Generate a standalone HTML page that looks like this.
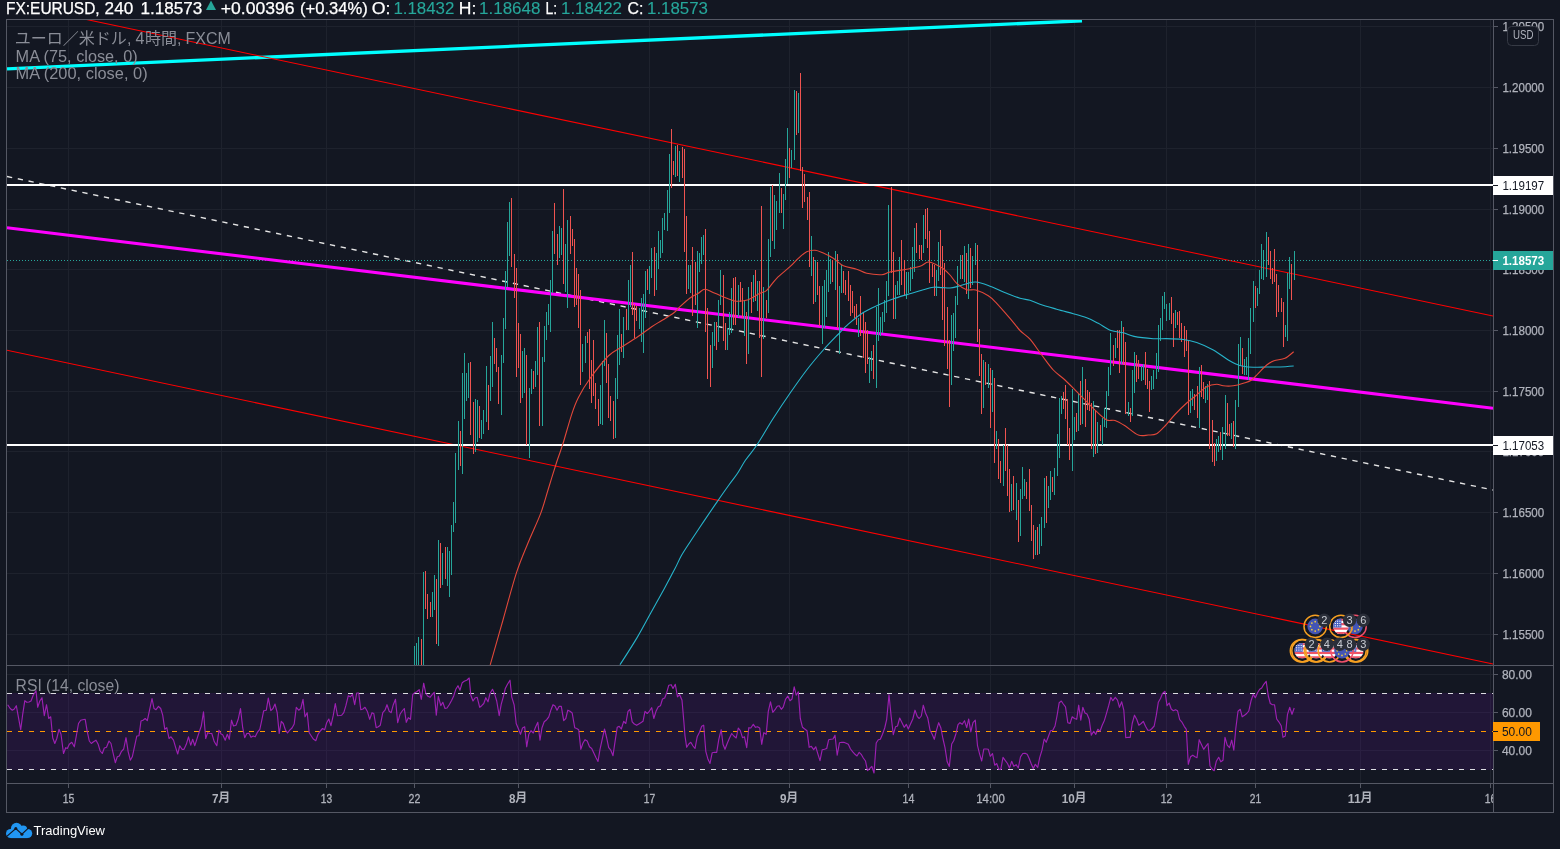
<!DOCTYPE html>
<html><head><meta charset="utf-8"><title>EURUSD</title><style>html,body{margin:0;padding:0;background:#131722;width:1560px;height:849px;overflow:hidden}</style></head><body>
<svg width="1560" height="849" viewBox="0 0 1560 849" style="display:block;position:absolute;left:0;top:0;will-change:transform">
<rect width="1560" height="849" fill="#131722"/>
<defs><clipPath id="cm"><rect x="7" y="20" width="1486" height="645"/></clipPath><clipPath id="cr"><rect x="7" y="666" width="1486" height="117"/></clipPath><clipPath id="ct"><rect x="7" y="784" width="1486" height="28"/></clipPath><clipPath id="ca"><rect x="1494" y="20" width="59" height="645"/></clipPath></defs>
<g stroke="#1e222d" stroke-width="1" shape-rendering="crispEdges"><line x1="68.5" y1="20" x2="68.5" y2="665"/><line x1="68.5" y1="666" x2="68.5" y2="783"/><line x1="221.5" y1="20" x2="221.5" y2="665"/><line x1="221.5" y1="666" x2="221.5" y2="783"/><line x1="326.5" y1="20" x2="326.5" y2="665"/><line x1="326.5" y1="666" x2="326.5" y2="783"/><line x1="414.5" y1="20" x2="414.5" y2="665"/><line x1="414.5" y1="666" x2="414.5" y2="783"/><line x1="518.5" y1="20" x2="518.5" y2="665"/><line x1="518.5" y1="666" x2="518.5" y2="783"/><line x1="649.5" y1="20" x2="649.5" y2="665"/><line x1="649.5" y1="666" x2="649.5" y2="783"/><line x1="789.5" y1="20" x2="789.5" y2="665"/><line x1="789.5" y1="666" x2="789.5" y2="783"/><line x1="908.5" y1="20" x2="908.5" y2="665"/><line x1="908.5" y1="666" x2="908.5" y2="783"/><line x1="990.5" y1="20" x2="990.5" y2="665"/><line x1="990.5" y1="666" x2="990.5" y2="783"/><line x1="1074.5" y1="20" x2="1074.5" y2="665"/><line x1="1074.5" y1="666" x2="1074.5" y2="783"/><line x1="1166.5" y1="20" x2="1166.5" y2="665"/><line x1="1166.5" y1="666" x2="1166.5" y2="783"/><line x1="1255.5" y1="20" x2="1255.5" y2="665"/><line x1="1255.5" y1="666" x2="1255.5" y2="783"/><line x1="1360.5" y1="20" x2="1360.5" y2="665"/><line x1="1360.5" y1="666" x2="1360.5" y2="783"/><line x1="1490.5" y1="20" x2="1490.5" y2="665"/><line x1="1490.5" y1="666" x2="1490.5" y2="783"/><line x1="7" y1="26.5" x2="1493" y2="26.5"/><line x1="7" y1="87.5" x2="1493" y2="87.5"/><line x1="7" y1="148.5" x2="1493" y2="148.5"/><line x1="7" y1="209.5" x2="1493" y2="209.5"/><line x1="7" y1="269.5" x2="1493" y2="269.5"/><line x1="7" y1="330.5" x2="1493" y2="330.5"/><line x1="7" y1="391.5" x2="1493" y2="391.5"/><line x1="7" y1="451.5" x2="1493" y2="451.5"/><line x1="7" y1="512.5" x2="1493" y2="512.5"/><line x1="7" y1="573.5" x2="1493" y2="573.5"/><line x1="7" y1="634.5" x2="1493" y2="634.5"/><line x1="7" y1="674.5" x2="1493" y2="674.5"/><line x1="7" y1="712.5" x2="1493" y2="712.5"/><line x1="7" y1="750.5" x2="1493" y2="750.5"/></g>
<g clip-path="url(#cm)" fill="none">
<line x1="7" y1="68.8" x2="1082" y2="20.8" stroke="#00ffff" stroke-width="3.3"/>
<line x1="86.5" y1="19.5" x2="1493" y2="316" stroke="#ff0000" stroke-width="1.05"/>
<line x1="6" y1="350" x2="1493" y2="664" stroke="#ff0000" stroke-width="1.05"/>
<line x1="7" y1="176.5" x2="1493" y2="490" stroke="#e4e4e4" stroke-width="1.4" stroke-dasharray="5.3 5.7"/>
<line x1="7" y1="260.5" x2="1493" y2="260.5" stroke="#26a69a" stroke-width="1" stroke-dasharray="1 2" shape-rendering="crispEdges"/>
<line x1="7" y1="227.8" x2="1493" y2="408.2" stroke="#ff00ff" stroke-width="3.1"/>
<rect x="7" y="184" width="1486" height="2" fill="#ffffff" shape-rendering="crispEdges"/>
<rect x="7" y="444" width="1486" height="2" fill="#ffffff" shape-rendering="crispEdges"/>
<path d="M414 646v19M416 643v22M418 637v30M423 572v93M432 592v25M434 575v35M438 540v106M442 553v32M447 547v39M449 551v46M451 525v50M453 502v30M455 453v70M458 421v49M462 373v101M464 353v66M466 373v28M468 363v35M475 399v53M477 400v42M481 420v19M483 410v24M486 366v56M490 356v45M492 322v65M501 355v60M503 318v45M505 271v58M507 222v65M509 202v54M522 351v47M524 348v45M529 388v70M531 369v25M535 361v26M537 327v48M542 357v69M544 326v36M546 312v28M548 304v21M550 280v52M552 231v62M559 226v32M561 228v27M565 244v48M567 220v88M582 344v28M585 336v27M600 385v39M602 361v64M604 320v46M615 378v60M617 335v64M619 309v56M623 317v41M628 280v50M630 265v42M639 308v21M641 298v44M643 294v59M645 271v47M649 266v28M651 248v30M656 253v37M658 231v38M660 240v18M662 218v35M664 213v17M667 190v41M669 154v59M675 146v31M679 151v31M688 265v24M690 265v28M697 251v77M699 253v19M701 237v27M703 235v20M712 332v36M714 322v24M718 300v42M720 270v35M727 328v22M729 312v23M731 288v45M738 285v32M744 300v36M748 287v67M753 275v27M757 281v30M763 287v52M768 239v74M770 187v70M774 195v54M776 201v29M779 173v40M783 194v35M785 159v41M787 128v56M791 150v18M794 90v70M798 93v40M811 236v40M815 260v42M822 286v58M824 280v48M826 270v47M828 252v40M830 259v25M835 251v39M839 286v68M841 265v28M858 318v19M869 357v26M871 351v20M876 307v81M878 288v53M880 317v19M882 312v21M884 300v22M886 281v32M888 205v91M895 285v34M897 281v14M899 257v38M906 272v27M908 272v21M910 267v24M912 247v32M914 228v44M923 215v38M936 270v26M938 242v39M951 315v70M953 313v38M955 296v42M957 266v39M960 255v24M964 246v36M968 244v55M972 256v29M975 243v22M983 360v48M988 364v24M992 370v42M996 431v18M1003 445v41M1011 484v27M1016 483v37M1020 489v47M1022 467v32M1024 479v17M1035 530v25M1039 524v30M1041 517v29M1044 478v50M1048 486v22M1050 471v29M1054 468v27M1057 434v42M1059 398v60M1061 396v18M1072 389v82M1074 417v23M1078 394v37M1082 367v57M1093 401v56M1097 422v31M1102 418v27M1104 408v19M1106 391v37M1108 367v29M1110 333v42M1115 338v20M1121 321v43M1128 402v14M1132 370v46M1134 352v41M1141 366v15M1143 364v16M1151 376v14M1153 370v19M1156 353v26M1158 325v47M1160 318v23M1162 296v34M1164 292v17M1166 304v17M1169 303v17M1175 310v18M1190 391v22M1192 389v17M1199 367v61M1205 386v17M1207 384v16M1216 439v22M1218 436v16M1222 427v33M1225 395v54M1231 423v16M1235 400v49M1238 344v63M1240 337v29M1244 359v16M1246 357v18M1248 338v42M1250 308v46M1253 281v41M1257 288v18M1259 270v24M1261 244v35M1263 250v30M1266 232v45M1285 325v12M1287 273v68M1289 257v32M1294 251v29" stroke="#26a69a" stroke-width="1" transform="translate(0.5 0)" shape-rendering="crispEdges"/>
<path d="M421 639v26M425 571v38M427 594v25M430 602v15M436 579v65M440 543v45M445 547v32M460 431v35M470 362v73M473 402v52M479 406v32M488 385v45M494 338v26M496 348v24M498 367v37M511 198v69M514 254v44M516 268v109M518 323v45M520 334v69M526 355v90M533 371v18M539 322v104M554 203v51M557 234v31M563 189v95M570 216v38M572 229v17M574 239v68M576 268v37M578 274v54M580 290v95M587 332v11M589 329v60M591 360v43M593 340v56M595 383v26M598 399v27M606 333v50M608 364v54M610 396v25M613 401v38M621 334v18M626 309v21M632 252v63M634 304v34M636 306v15M647 269v21M654 247v49M671 129v59M673 161v14M677 145v31M682 147v31M684 149v103M686 216v78M692 247v69M695 262v43M705 229v103M707 308v71M710 345v42M716 322v28M723 275v66M725 323v27M733 278v47M735 277v48M740 282v20M742 288v30M746 312v52M751 282v31M755 270v31M759 281v57M761 206v171M766 300v18M772 185v56M781 188v25M789 148v30M796 91v44M800 73v98M802 167v41M804 174v28M807 197v23M809 192v75M813 257v47M817 262v33M819 286v40M832 260v22M837 254v74M843 271v22M845 280v15M848 271v30M850 285v31M852 291v22M854 306v12M856 304v21M860 296v40M863 312v46M865 322v51M867 330v34M873 345v34M891 187v86M893 252v67M901 240v45M904 260v36M916 223v30M919 245v14M921 245v15M925 209v30M927 208v40M929 231v52M932 264v13M934 265v31M940 230v45M942 246v74M944 263v83M947 307v62M949 340v67M962 255v24M966 253v41M970 248v40M977 245v97M979 329v47M981 354v60M985 362v23M990 368v60M994 378v85M998 439v40M1000 461v22M1005 428v43M1007 445v51M1009 469v43M1013 476v34M1018 500v42M1026 482v17M1029 469v42M1031 505v36M1033 525v34M1037 527v28M1046 476v47M1052 477v15M1063 392v17M1065 385v34M1067 399v46M1069 428v32M1076 413v19M1080 381v44M1085 379v48M1087 390v20M1089 392v19M1091 403v46M1095 410v44M1100 425v16M1113 345v21M1117 330v18M1119 330v43M1123 327v38M1125 342v72M1130 408v14M1136 355v27M1138 360v19M1145 352v33M1147 369v20M1149 381v31M1171 297v27M1173 313v34M1177 312v13M1179 311v27M1181 323v19M1184 326v31M1186 330v21M1188 340v75M1194 394v16M1197 386v32M1201 365v32M1203 382v17M1209 381v68M1212 420v42M1214 443v23M1220 432v18M1227 403v33M1229 424v12M1233 421v26M1242 348v26M1255 286v22M1268 237v28M1270 251v28M1272 268v16M1274 249v33M1276 274v43M1278 285v27M1281 298v14M1283 302v45M1291 264v36" stroke="#ef5350" stroke-width="1" transform="translate(0.5 0)" shape-rendering="crispEdges"/>
<path d="M620.0 664.7C622.9 660.2 632.0 646.2 637.1 637.6C642.2 629.0 646.1 621.4 650.6 613.3C655.1 605.2 660.0 596.3 664.1 588.9C668.2 581.5 672.1 574.2 675.0 568.6C677.9 563.0 679.0 559.8 681.7 555.1C684.4 550.4 687.4 546.1 691.2 540.2C695.1 534.3 700.3 526.6 704.8 519.9C709.3 513.2 714.2 506.0 718.3 500.1C722.3 494.2 726.0 489.1 729.1 484.7C732.2 480.3 734.5 477.9 737.2 473.8C739.9 469.7 742.1 465.2 745.4 460.3C748.7 455.4 752.6 451.5 757.2 444.5C761.9 437.5 767.8 426.8 773.3 418.3C778.8 409.8 784.4 401.4 790.0 393.3C795.6 385.2 801.2 377.2 806.7 370.0C812.2 362.8 818.1 355.9 823.3 350.0C828.5 344.1 833.8 338.8 838.0 334.5C842.2 330.2 844.1 327.9 848.3 324.2C852.5 320.5 858.3 315.7 863.3 312.5C868.3 309.3 873.0 307.4 878.3 305.0C883.6 302.6 889.4 300.2 895.0 298.3C900.6 296.4 907.0 294.7 911.7 293.3C916.4 291.9 919.7 290.7 923.3 289.7C926.9 288.7 930.2 287.5 933.3 287.2C936.4 286.9 939.2 287.5 942.0 287.6C944.8 287.7 947.3 288.2 950.0 288.0C952.7 287.8 955.5 287.0 958.3 286.3C961.1 285.6 963.8 284.4 966.7 283.7C969.6 283.0 972.2 281.7 975.8 282.0C979.4 282.3 983.1 283.6 988.3 285.5C993.4 287.4 1001.4 291.2 1006.7 293.3C1012.0 295.4 1016.1 297.1 1020.0 298.3C1023.9 299.5 1026.7 299.3 1030.0 300.3C1033.3 301.3 1035.5 302.7 1040.0 304.2C1044.5 305.7 1051.2 307.6 1056.7 309.2C1062.2 310.8 1068.3 312.3 1073.3 313.7C1078.3 315.1 1082.5 316.2 1086.7 317.8C1090.9 319.4 1094.2 321.2 1098.3 323.3C1102.3 325.4 1106.8 328.9 1111.0 330.5C1115.2 332.1 1119.5 331.8 1123.3 332.8C1127.1 333.8 1129.0 335.4 1134.0 336.4C1139.0 337.4 1147.8 338.3 1153.3 338.7C1158.8 339.1 1161.7 338.5 1166.7 338.6C1171.7 338.7 1178.3 338.9 1183.3 339.5C1188.3 340.1 1191.7 340.8 1196.7 342.5C1201.7 344.2 1208.0 347.1 1213.3 350.0C1218.6 352.9 1224.5 357.7 1228.3 360.0C1232.1 362.3 1233.5 362.9 1236.0 364.0C1238.5 365.1 1240.4 365.8 1243.3 366.3C1246.2 366.9 1249.4 367.2 1253.3 367.3C1257.2 367.4 1262.2 367.1 1266.7 367.0C1271.2 366.9 1275.5 367.2 1280.0 367.0C1284.5 366.8 1291.4 366.2 1293.7 366.0" stroke="#27b4cb" stroke-width="1.1"/>
<path d="M490.2 664.8C492.3 657.3 498.6 635.4 503.0 620.0C507.4 604.6 512.3 585.5 516.5 572.7C520.7 559.9 524.0 552.9 528.0 543.0C532.0 533.1 537.5 521.9 540.8 513.1C544.1 504.3 545.4 498.5 548.0 490.0C550.6 481.5 554.3 469.5 556.7 462.0C559.1 454.5 560.0 453.1 562.5 445.2C565.0 437.2 569.1 422.2 571.7 414.3C574.3 406.4 575.2 403.7 578.3 397.7C581.3 391.7 585.0 385.4 590.0 378.5C595.0 371.6 602.8 361.4 608.3 356.0C613.8 350.6 618.0 349.5 623.3 346.0C628.6 342.5 635.3 338.4 640.0 335.2C644.7 332.0 648.2 329.2 651.7 326.8C655.2 324.4 657.4 323.2 661.0 321.0C664.6 318.8 670.1 315.7 673.3 313.3C676.5 310.9 677.2 309.2 680.0 306.7C682.8 304.1 687.0 300.2 690.0 298.0C693.0 295.8 695.8 294.8 698.3 293.3C700.8 291.8 702.2 289.2 705.0 289.2C707.8 289.2 710.5 291.5 715.0 293.3C719.5 295.1 727.8 298.7 731.7 300.0C735.6 301.3 735.5 301.4 738.3 301.3C741.1 301.2 744.7 301.0 748.3 299.7C751.9 298.4 756.9 294.9 760.0 293.3C763.1 291.7 763.9 292.8 766.7 290.3C769.5 287.8 772.8 282.2 776.7 278.3C780.6 274.4 786.4 270.0 790.0 266.7C793.6 263.4 795.5 260.8 798.3 258.3C801.1 255.8 803.9 253.0 806.7 251.7C809.5 250.4 812.2 250.1 815.0 250.3C817.8 250.5 820.2 251.7 823.3 253.0C826.3 254.3 830.0 256.2 833.3 258.3C836.6 260.4 839.4 264.0 843.3 265.8C847.2 267.6 852.8 267.9 856.7 269.2C860.6 270.4 862.5 272.4 866.7 273.3C870.9 274.2 877.8 274.9 881.7 274.7C885.6 274.5 885.8 272.9 890.0 272.0C894.2 271.1 901.7 270.1 906.7 269.2C911.7 268.2 916.4 267.5 920.0 266.3C923.6 265.1 925.5 262.2 928.3 262.0C931.1 261.8 934.2 263.9 936.7 265.0C939.2 266.1 941.1 267.1 943.3 268.8C945.5 270.5 947.8 272.6 950.0 275.0C952.2 277.4 953.9 280.9 956.7 283.3C959.5 285.8 963.5 288.6 966.7 289.7C969.9 290.8 972.2 289.0 975.8 290.0C979.4 291.0 984.8 293.6 988.3 295.8C991.8 298.0 993.1 299.6 996.7 303.3C1000.3 307.1 1006.1 313.8 1010.0 318.3C1013.9 322.8 1016.7 327.0 1020.0 330.5C1023.3 334.0 1026.4 335.1 1030.0 339.2C1033.6 343.3 1037.8 349.9 1041.7 355.0C1045.6 360.1 1049.4 365.8 1053.3 370.0C1057.2 374.2 1061.1 376.4 1065.0 380.0C1068.9 383.6 1073.1 388.1 1076.7 391.7C1080.3 395.3 1083.4 398.4 1086.7 401.7C1090.0 405.0 1093.4 408.6 1096.7 411.7C1100.0 414.8 1103.7 418.5 1106.7 420.0C1109.8 421.5 1112.0 419.5 1115.0 420.5C1118.0 421.5 1121.1 423.4 1125.0 425.8C1128.9 428.2 1134.4 433.5 1138.3 435.0C1142.2 436.5 1145.2 435.2 1148.3 435.0C1151.4 434.8 1153.9 435.2 1156.7 433.7C1159.5 432.2 1162.0 429.2 1165.0 426.0C1168.0 422.8 1171.4 418.3 1175.0 414.5C1178.6 410.7 1183.1 406.2 1186.7 403.0C1190.3 399.8 1193.4 397.7 1196.7 395.0C1200.0 392.3 1203.4 388.5 1206.7 386.7C1210.0 384.9 1213.9 384.3 1216.7 384.2C1219.5 384.1 1220.5 385.5 1223.3 385.8C1226.1 386.1 1230.0 386.2 1233.3 385.8C1236.6 385.4 1240.2 384.3 1243.3 383.3C1246.4 382.3 1249.2 381.7 1251.7 380.0C1254.2 378.3 1255.8 375.8 1258.3 373.3C1260.8 370.8 1264.1 367.1 1266.7 365.0C1269.3 362.9 1271.0 361.9 1274.0 360.8C1277.0 359.7 1281.7 359.8 1285.0 358.3C1288.3 356.8 1292.2 352.8 1293.7 351.7" stroke="#e2483a" stroke-width="1.1"/>
<g><circle cx="1355" cy="626.4" r="7.8" fill="#4355b5"/><circle cx="1355.00" cy="621.70" r="0.85" fill="#f7d23a"/><circle cx="1358.32" cy="623.08" r="0.85" fill="#f7d23a"/><circle cx="1359.70" cy="626.40" r="0.85" fill="#f7d23a"/><circle cx="1358.32" cy="629.72" r="0.85" fill="#f7d23a"/><circle cx="1355.00" cy="631.10" r="0.85" fill="#f7d23a"/><circle cx="1351.68" cy="629.72" r="0.85" fill="#f7d23a"/><circle cx="1350.30" cy="626.40" r="0.85" fill="#f7d23a"/><circle cx="1351.68" cy="623.08" r="0.85" fill="#f7d23a"/><circle cx="1355" cy="626.4" r="11.2" fill="none" stroke="#f0506a" stroke-width="1.5"/><circle cx="1315.2" cy="626.4" r="7.8" fill="#4355b5"/><circle cx="1315.20" cy="621.70" r="0.85" fill="#f7d23a"/><circle cx="1318.52" cy="623.08" r="0.85" fill="#f7d23a"/><circle cx="1319.90" cy="626.40" r="0.85" fill="#f7d23a"/><circle cx="1318.52" cy="629.72" r="0.85" fill="#f7d23a"/><circle cx="1315.20" cy="631.10" r="0.85" fill="#f7d23a"/><circle cx="1311.88" cy="629.72" r="0.85" fill="#f7d23a"/><circle cx="1310.50" cy="626.40" r="0.85" fill="#f7d23a"/><circle cx="1311.88" cy="623.08" r="0.85" fill="#f7d23a"/><circle cx="1315.2" cy="626.4" r="11.2" fill="none" stroke="#f7a021" stroke-width="1.5"/><clipPath id="f1"><circle cx="1340.9" cy="626.4" r="7.8"/></clipPath><g clip-path="url(#f1)"><rect x="1333.1" y="618.6" width="15.6" height="15.6" fill="#ffffff"/><rect x="1333.1" y="618.6" width="15.6" height="2.22857" fill="#ef5466"/><rect x="1333.1" y="623.057" width="15.6" height="2.22857" fill="#ef5466"/><rect x="1333.1" y="627.514" width="15.6" height="2.22857" fill="#ef5466"/><rect x="1333.1" y="631.971" width="15.6" height="2.22857" fill="#ef5466"/><rect x="1333.1" y="618.6" width="8.3" height="8.91429" fill="#4a63c4"/><rect x="1334.75" y="620.65" width="1.1" height="1.1" fill="#ffffff"/><rect x="1337.05" y="620.65" width="1.1" height="1.1" fill="#ffffff"/><rect x="1339.35" y="620.65" width="1.1" height="1.1" fill="#ffffff"/><rect x="1334.75" y="622.95" width="1.1" height="1.1" fill="#ffffff"/><rect x="1337.05" y="622.95" width="1.1" height="1.1" fill="#ffffff"/><rect x="1339.35" y="622.95" width="1.1" height="1.1" fill="#ffffff"/><rect x="1334.75" y="625.25" width="1.1" height="1.1" fill="#ffffff"/><rect x="1337.05" y="625.25" width="1.1" height="1.1" fill="#ffffff"/><rect x="1339.35" y="625.25" width="1.1" height="1.1" fill="#ffffff"/></g><circle cx="1340.9" cy="626.4" r="11.2" fill="none" stroke="#f7a021" stroke-width="1.5"/><clipPath id="f2"><circle cx="1302.2" cy="650.7" r="7.8"/></clipPath><g clip-path="url(#f2)"><rect x="1294.4" y="642.9" width="15.6" height="15.6" fill="#ffffff"/><rect x="1294.4" y="642.9" width="15.6" height="2.22857" fill="#ef5466"/><rect x="1294.4" y="647.357" width="15.6" height="2.22857" fill="#ef5466"/><rect x="1294.4" y="651.814" width="15.6" height="2.22857" fill="#ef5466"/><rect x="1294.4" y="656.271" width="15.6" height="2.22857" fill="#ef5466"/><rect x="1294.4" y="642.9" width="8.3" height="8.91429" fill="#4a63c4"/><rect x="1296.05" y="644.95" width="1.1" height="1.1" fill="#ffffff"/><rect x="1298.35" y="644.95" width="1.1" height="1.1" fill="#ffffff"/><rect x="1300.65" y="644.95" width="1.1" height="1.1" fill="#ffffff"/><rect x="1296.05" y="647.25" width="1.1" height="1.1" fill="#ffffff"/><rect x="1298.35" y="647.25" width="1.1" height="1.1" fill="#ffffff"/><rect x="1300.65" y="647.25" width="1.1" height="1.1" fill="#ffffff"/><rect x="1296.05" y="649.55" width="1.1" height="1.1" fill="#ffffff"/><rect x="1298.35" y="649.55" width="1.1" height="1.1" fill="#ffffff"/><rect x="1300.65" y="649.55" width="1.1" height="1.1" fill="#ffffff"/></g><circle cx="1301.5" cy="650.7" r="11.2" fill="none" stroke="#f7a021" stroke-width="1.5"/><circle cx="1303" cy="650.7" r="11.2" fill="none" stroke="#f7a021" stroke-width="1.5"/><clipPath id="f3"><circle cx="1316.2" cy="650.7" r="7.8"/></clipPath><g clip-path="url(#f3)"><rect x="1308.4" y="642.9" width="15.6" height="15.6" fill="#ffffff"/><rect x="1308.4" y="642.9" width="15.6" height="2.22857" fill="#ef5466"/><rect x="1308.4" y="647.357" width="15.6" height="2.22857" fill="#ef5466"/><rect x="1308.4" y="651.814" width="15.6" height="2.22857" fill="#ef5466"/><rect x="1308.4" y="656.271" width="15.6" height="2.22857" fill="#ef5466"/><rect x="1308.4" y="642.9" width="8.3" height="8.91429" fill="#4a63c4"/><rect x="1310.05" y="644.95" width="1.1" height="1.1" fill="#ffffff"/><rect x="1312.35" y="644.95" width="1.1" height="1.1" fill="#ffffff"/><rect x="1314.65" y="644.95" width="1.1" height="1.1" fill="#ffffff"/><rect x="1310.05" y="647.25" width="1.1" height="1.1" fill="#ffffff"/><rect x="1312.35" y="647.25" width="1.1" height="1.1" fill="#ffffff"/><rect x="1314.65" y="647.25" width="1.1" height="1.1" fill="#ffffff"/><rect x="1310.05" y="649.55" width="1.1" height="1.1" fill="#ffffff"/><rect x="1312.35" y="649.55" width="1.1" height="1.1" fill="#ffffff"/><rect x="1314.65" y="649.55" width="1.1" height="1.1" fill="#ffffff"/></g><circle cx="1315.5" cy="650.7" r="11.2" fill="none" stroke="#f7a021" stroke-width="1.5"/><circle cx="1317" cy="650.7" r="11.2" fill="none" stroke="#f7a021" stroke-width="1.5"/><clipPath id="f4"><circle cx="1329.4" cy="650.7" r="7.8"/></clipPath><g clip-path="url(#f4)"><rect x="1321.6" y="642.9" width="15.6" height="15.6" fill="#ffffff"/><rect x="1321.6" y="642.9" width="15.6" height="2.22857" fill="#ef5466"/><rect x="1321.6" y="647.357" width="15.6" height="2.22857" fill="#ef5466"/><rect x="1321.6" y="651.814" width="15.6" height="2.22857" fill="#ef5466"/><rect x="1321.6" y="656.271" width="15.6" height="2.22857" fill="#ef5466"/><rect x="1321.6" y="642.9" width="8.3" height="8.91429" fill="#4a63c4"/><rect x="1323.25" y="644.95" width="1.1" height="1.1" fill="#ffffff"/><rect x="1325.55" y="644.95" width="1.1" height="1.1" fill="#ffffff"/><rect x="1327.85" y="644.95" width="1.1" height="1.1" fill="#ffffff"/><rect x="1323.25" y="647.25" width="1.1" height="1.1" fill="#ffffff"/><rect x="1325.55" y="647.25" width="1.1" height="1.1" fill="#ffffff"/><rect x="1327.85" y="647.25" width="1.1" height="1.1" fill="#ffffff"/><rect x="1323.25" y="649.55" width="1.1" height="1.1" fill="#ffffff"/><rect x="1325.55" y="649.55" width="1.1" height="1.1" fill="#ffffff"/><rect x="1327.85" y="649.55" width="1.1" height="1.1" fill="#ffffff"/></g><circle cx="1329.4" cy="650.7" r="11.2" fill="none" stroke="#f7a021" stroke-width="1.5"/><clipPath id="f5"><circle cx="1355.8" cy="650.7" r="7.8"/></clipPath><g clip-path="url(#f5)"><rect x="1348" y="642.9" width="15.6" height="15.6" fill="#ffffff"/><rect x="1348" y="642.9" width="15.6" height="2.22857" fill="#ef5466"/><rect x="1348" y="647.357" width="15.6" height="2.22857" fill="#ef5466"/><rect x="1348" y="651.814" width="15.6" height="2.22857" fill="#ef5466"/><rect x="1348" y="656.271" width="15.6" height="2.22857" fill="#ef5466"/><rect x="1348" y="642.9" width="8.3" height="8.91429" fill="#4a63c4"/><rect x="1349.65" y="644.95" width="1.1" height="1.1" fill="#ffffff"/><rect x="1351.95" y="644.95" width="1.1" height="1.1" fill="#ffffff"/><rect x="1354.25" y="644.95" width="1.1" height="1.1" fill="#ffffff"/><rect x="1349.65" y="647.25" width="1.1" height="1.1" fill="#ffffff"/><rect x="1351.95" y="647.25" width="1.1" height="1.1" fill="#ffffff"/><rect x="1354.25" y="647.25" width="1.1" height="1.1" fill="#ffffff"/><rect x="1349.65" y="649.55" width="1.1" height="1.1" fill="#ffffff"/><rect x="1351.95" y="649.55" width="1.1" height="1.1" fill="#ffffff"/><rect x="1354.25" y="649.55" width="1.1" height="1.1" fill="#ffffff"/></g><circle cx="1355" cy="650.7" r="11.2" fill="none" stroke="#f7a021" stroke-width="1.5"/><circle cx="1356.6" cy="650.7" r="11.2" fill="none" stroke="#f7a021" stroke-width="1.5"/><circle cx="1342" cy="650.7" r="7.8" fill="#4355b5"/><circle cx="1342.00" cy="646.00" r="0.85" fill="#f7d23a"/><circle cx="1345.32" cy="647.38" r="0.85" fill="#f7d23a"/><circle cx="1346.70" cy="650.70" r="0.85" fill="#f7d23a"/><circle cx="1345.32" cy="654.02" r="0.85" fill="#f7d23a"/><circle cx="1342.00" cy="655.40" r="0.85" fill="#f7d23a"/><circle cx="1338.68" cy="654.02" r="0.85" fill="#f7d23a"/><circle cx="1337.30" cy="650.70" r="0.85" fill="#f7d23a"/><circle cx="1338.68" cy="647.38" r="0.85" fill="#f7d23a"/><circle cx="1342" cy="650.7" r="11.2" fill="none" stroke="#f0506a" stroke-width="1.5"/><circle cx="1324.2" cy="620.2" r="6.7" fill="#2a2e39"/><text x="1324.2" y="624.1" text-anchor="middle" font-family="Liberation Sans, sans-serif" font-size="11" fill="#c9ccd3">2</text><circle cx="1349.6" cy="620.2" r="6.7" fill="#2a2e39"/><text x="1349.6" y="624.1" text-anchor="middle" font-family="Liberation Sans, sans-serif" font-size="11" fill="#c9ccd3">3</text><circle cx="1363.2" cy="620.2" r="6.7" fill="#2a2e39"/><text x="1363.2" y="624.1" text-anchor="middle" font-family="Liberation Sans, sans-serif" font-size="11" fill="#c9ccd3">6</text><circle cx="1326.9" cy="644.3" r="6.7" fill="#2a2e39"/><text x="1326.9" y="648.2" text-anchor="middle" font-family="Liberation Sans, sans-serif" font-size="11" fill="#c9ccd3">4</text><circle cx="1311.5" cy="644.3" r="6.7" fill="#2a2e39"/><text x="1311.5" y="648.2" text-anchor="middle" font-family="Liberation Sans, sans-serif" font-size="11" fill="#c9ccd3">2</text><circle cx="1339.7" cy="644.3" r="6.7" fill="#2a2e39"/><text x="1339.7" y="648.2" text-anchor="middle" font-family="Liberation Sans, sans-serif" font-size="11" fill="#c9ccd3">4</text><circle cx="1349.6" cy="644.3" r="6.7" fill="#2a2e39"/><text x="1349.6" y="648.2" text-anchor="middle" font-family="Liberation Sans, sans-serif" font-size="11" fill="#c9ccd3">8</text><circle cx="1363.2" cy="644.3" r="6.7" fill="#2a2e39"/><text x="1363.2" y="648.2" text-anchor="middle" font-family="Liberation Sans, sans-serif" font-size="11" fill="#c9ccd3">3</text></g>
</g>
<g clip-path="url(#cr)" fill="none">
<rect x="7" y="693" width="1486" height="77" fill="#7017b4" fill-opacity="0.15"/>
<line x1="7" y1="693.5" x2="1493" y2="693.5" stroke="#dcdce2" stroke-width="1" stroke-dasharray="5 6" shape-rendering="crispEdges"/>
<line x1="7" y1="769.5" x2="1493" y2="769.5" stroke="#dcdce2" stroke-width="1" stroke-dasharray="5 6" shape-rendering="crispEdges"/>
<line x1="7" y1="731.5" x2="1493" y2="731.5" stroke="#ff9800" stroke-width="1" stroke-dasharray="5 6" shape-rendering="crispEdges"/>
<path d="M7.7 704.7L10.2 708.5L12.3 710.2L14.3 709.0L16.3 705.7L18.5 717.7L20.7 729.7L22.7 714.3L24.8 700.7L26.8 702.3L29.0 702.0L31.0 701.0L33.2 695.2L36.0 690.7L37.7 707.3L39.8 701.0L42.0 697.7L44.3 715.7L46.5 704.7L48.7 718.5L50.7 716.8L52.7 737.7L54.8 743.5L56.8 738.5L59.0 729.3L61.0 734.3L63.5 753.5L65.7 747.7L67.3 748.5L69.3 744.3L71.8 742.3L74.3 746.8L76.3 736.0L78.5 723.5L80.7 720.2L82.7 719.7L85.2 719.3L87.3 731.8L89.3 741.0L91.3 743.5L93.5 741.8L96.0 740.2L98.2 744.3L100.2 751.0L102.3 753.5L104.3 748.0L106.5 747.3L109.0 741.0L111.0 743.5L113.2 753.5L115.3 762.7L117.3 756.8L119.3 756.0L121.5 751.3L123.7 749.0L126.0 737.7L128.2 751.8L130.3 760.2L132.3 756.8L134.3 747.7L136.8 736.0L139.0 735.7L141.0 721.0L143.0 720.2L145.2 718.5L147.3 720.7L149.7 709.3L152.0 698.5L154.0 708.5L156.0 709.7L158.5 706.3L160.7 708.5L162.7 715.2L164.8 729.3L166.8 727.7L169.0 738.5L171.0 736.8L173.5 740.2L175.7 747.7L177.7 754.0L179.8 745.7L182.0 749.3L184.0 749.3L186.3 744.3L188.5 736.8L190.7 745.2L192.7 739.3L194.8 745.7L196.8 739.3L199.3 731.8L201.3 726.0L203.5 711.8L205.7 738.5L207.7 732.7L209.7 733.5L211.8 733.5L214.3 741.8L216.8 745.7L219.0 730.2L221.0 734.0L222.7 734.7L225.2 740.2L227.3 734.3L229.3 739.3L231.5 720.2L233.5 726.0L236.0 725.2L238.2 719.3L240.5 708.5L242.7 727.7L244.7 737.7L246.8 733.5L249.0 733.2L251.0 737.3L253.2 736.0L255.2 736.8L257.7 731.8L259.8 729.3L261.8 720.2L263.7 710.7L264.0 710.7L266.3 710.2L268.3 698.0L270.8 710.7L273.0 708.5L275.0 704.0L277.2 712.7L279.2 733.5L281.3 721.3L283.3 723.5L285.5 730.2L287.5 733.0L289.7 730.2L292.0 728.0L294.2 724.0L296.3 707.3L298.7 710.2L300.8 708.5L303.0 699.3L305.0 716.8L307.2 712.7L309.2 732.7L311.3 736.0L313.3 739.0L315.8 740.7L318.0 734.3L320.3 731.0L322.5 728.5L324.7 729.7L326.7 722.7L328.8 719.0L331.0 725.7L333.3 715.2L335.3 703.5L337.5 715.7L339.7 715.5L341.7 715.2L343.8 712.7L346.0 705.2L348.3 695.7L350.3 696.8L352.5 694.3L354.7 704.7L356.7 693.0L358.7 693.0L360.8 709.7L363.0 709.0L365.0 707.3L367.5 711.8L369.7 719.3L372.0 712.7L373.8 713.5L376.2 727.7L378.3 726.8L380.3 725.2L382.8 712.7L385.0 710.2L387.0 704.7L389.2 711.3L391.2 712.7L393.3 704.7L395.5 699.3L397.7 722.7L400.0 714.3L402.2 711.0L404.3 708.5L406.3 722.3L408.3 717.7L410.5 719.3L412.7 694.7L414.7 692.7L416.7 691.8L419.2 689.7L421.3 699.3L423.7 683.2L425.8 693.5L428.0 696.3L430.0 697.3L432.2 694.7L434.2 692.3L436.3 715.2L438.3 696.3L440.8 705.7L442.8 702.3L445.0 708.5L447.0 708.0L449.2 704.7L451.7 700.2L453.8 695.7L455.8 689.3L458.0 685.7L460.0 690.2L462.2 682.7L464.2 681.3L466.7 680.2L469.2 678.0L470.8 695.2L473.0 701.0L475.0 698.0L477.2 697.3L479.7 707.3L481.7 705.7L483.8 703.5L485.8 697.7L488.0 701.8L490.0 693.5L492.5 689.3L494.7 694.3L496.7 701.0L499.2 715.7L501.2 704.3L503.3 696.8L505.3 688.5L507.5 684.3L510.0 680.2L511.7 696.8L514.2 705.2L516.2 723.5L518.3 728.5L520.5 734.3L522.5 728.0L524.7 726.8L526.7 746.8L528.8 734.3L531.0 730.7L533.3 733.0L535.5 727.3L537.8 722.3L540.0 740.2L542.0 727.7L544.2 721.8L546.7 719.7L548.8 716.8L551.0 709.7L553.0 704.7L555.0 706.0L557.0 710.2L559.2 706.3L561.3 706.3L563.7 720.7L565.8 718.5L567.8 710.2L570.0 711.3L572.2 713.0L574.7 727.7L576.7 728.5L578.7 729.7L580.8 749.3L583.0 743.0L585.0 739.7L587.2 741.0L589.5 746.8L591.7 748.5L593.8 753.0L595.8 757.3L598.0 761.5L600.0 749.3L602.2 739.3L604.5 729.0L606.7 738.0L608.7 747.7L610.8 750.2L613.0 755.7L615.0 741.8L617.2 727.3L619.2 726.3L621.3 729.0L623.7 721.3L625.8 723.5L628.0 711.3L630.0 709.3L632.2 721.8L634.3 724.0L636.7 725.3L638.8 724.0L640.8 722.7L643.0 721.3L645.0 711.3L647.2 713.5L649.3 711.3L651.7 707.7L653.8 718.5L656.0 711.3L658.3 706.8L660.5 705.7L662.5 699.0L664.7 698.0L666.7 692.7L668.8 685.2L671.2 684.7L673.0 688.5L675.3 684.3L677.5 696.8L679.7 694.7L682.0 700.2L683.8 721.0L685.0 736.0L686.7 747.3L688.8 744.0L690.8 742.3L693.0 746.0L695.0 748.5L697.2 736.8L699.5 732.3L701.7 726.3L703.7 725.2L705.8 751.3L708.0 759.3L710.0 763.5L712.2 752.7L714.5 752.3L716.7 752.3L718.8 739.3L721.2 729.7L723.0 744.3L725.0 749.3L727.2 743.5L729.3 738.5L731.7 733.5L733.8 736.0L736.2 738.0L738.3 728.0L740.3 730.7L742.5 737.7L744.5 736.8L746.7 747.7L748.8 727.7L750.8 728.0L753.3 724.3L755.5 727.3L757.5 726.8L759.7 728.0L761.7 744.3L763.8 732.7L766.2 734.3L768.3 711.3L770.5 701.8L772.8 712.3L775.0 709.7L777.2 706.3L779.2 705.7L781.3 709.3L783.3 706.8L785.5 699.3L787.8 696.0L790.0 700.7L792.0 699.0L794.2 686.8L796.2 695.2L798.3 691.8L800.3 718.5L802.5 727.3L804.7 729.0L807.0 730.7L809.2 747.3L811.3 746.3L813.7 749.7L815.8 746.8L818.0 754.3L820.0 760.7L822.2 749.7L824.5 749.3L826.7 748.5L828.7 739.7L830.8 739.3L833.0 739.0L835.0 735.2L837.2 755.2L839.5 742.7L841.7 742.3L843.8 742.3L846.2 743.2L848.3 744.3L850.5 749.0L852.8 751.8L855.0 754.3L857.0 756.0L859.2 752.3L861.2 754.3L863.3 758.0L865.5 761.0L867.5 770.7L869.7 768.5L871.8 766.3L874.0 773.0L876.2 743.0L878.3 739.7L880.3 739.3L882.5 734.3L884.7 728.0L886.7 719.3L889.0 694.7L891.2 716.8L893.3 734.7L895.5 726.8L897.5 726.0L899.7 718.0L902.0 722.7L904.2 727.3L906.3 724.3L908.3 729.0L910.5 724.0L912.8 719.0L915.0 710.2L917.2 716.3L919.2 718.5L921.3 716.0L923.3 705.2L925.5 713.0L927.7 717.7L930.0 730.2L932.2 734.3L934.3 739.3L936.7 729.3L938.7 722.7L940.8 727.7L943.0 739.0L945.0 747.7L947.2 761.8L949.3 766.5L951.7 744.0L953.7 740.7L955.8 734.3L958.0 724.7L960.0 722.7L962.2 724.3L964.5 720.7L966.7 727.7L968.7 719.0L970.8 731.8L973.0 722.7L975.3 720.2L977.5 745.7L979.7 754.3L981.7 761.0L983.8 749.0L986.2 749.0L988.3 749.3L990.3 756.3L992.5 753.5L994.7 765.2L996.7 763.5L998.8 769.3L1000.8 769.3L1003.0 757.3L1005.0 760.2L1007.5 763.5L1009.5 768.0L1011.7 761.3L1013.8 766.3L1016.2 764.7L1018.3 768.0L1020.5 756.8L1022.8 753.5L1025.0 753.2L1027.2 754.3L1029.2 758.5L1031.3 764.0L1033.3 768.5L1035.3 764.3L1037.7 767.3L1039.7 757.7L1042.0 750.2L1044.2 739.0L1046.2 742.3L1048.3 736.8L1050.5 730.7L1052.8 730.2L1055.0 726.0L1057.0 716.0L1059.2 702.7L1061.3 701.0L1063.3 704.0L1065.5 706.8L1067.8 722.7L1070.0 723.5L1072.2 716.8L1074.5 718.5L1076.7 719.3L1078.7 705.2L1080.8 720.2L1082.8 707.3L1085.0 713.0L1087.0 714.0L1089.2 719.3L1091.3 735.2L1093.7 731.3L1095.8 734.3L1097.8 729.3L1100.0 731.3L1102.2 725.2L1104.5 720.2L1106.7 712.7L1108.8 705.2L1110.8 697.3L1112.8 700.7L1115.3 697.3L1117.5 700.2L1119.5 707.3L1121.7 701.8L1123.8 710.2L1125.8 737.7L1128.0 737.3L1130.2 737.3L1132.2 723.5L1134.5 715.2L1136.7 719.3L1138.8 725.2L1141.2 723.5L1143.3 721.3L1145.5 726.3L1147.8 730.2L1150.0 730.2L1152.0 728.5L1154.2 726.0L1156.3 715.2L1158.3 702.3L1160.5 698.5L1162.5 693.5L1165.0 691.3L1167.0 705.7L1169.2 703.0L1171.2 709.0L1173.3 710.7L1175.5 709.7L1177.5 710.7L1179.7 719.7L1181.7 721.8L1184.2 726.3L1186.3 729.3L1188.3 764.3L1190.5 756.8L1192.8 755.2L1195.0 756.8L1197.0 757.7L1199.2 739.7L1201.3 744.3L1203.7 749.3L1205.8 746.3L1208.0 743.5L1210.0 766.0L1212.2 769.3L1214.2 770.7L1216.3 761.3L1218.7 757.3L1220.8 761.8L1223.0 760.2L1225.0 737.3L1227.2 745.2L1229.5 747.7L1231.7 740.2L1233.8 750.2L1235.8 728.5L1238.0 711.3L1240.3 709.3L1242.2 716.8L1244.5 715.2L1246.7 713.5L1248.8 711.0L1251.2 700.2L1253.3 694.3L1255.3 697.7L1257.5 692.7L1259.7 689.3L1261.7 688.0L1263.8 684.3L1266.2 681.3L1268.3 696.0L1270.3 703.5L1272.5 704.7L1274.5 704.7L1276.7 719.0L1278.8 721.8L1281.2 725.7L1283.0 737.3L1285.3 736.0L1287.5 714.3L1289.7 707.3L1292.0 714.3L1294.2 708.0" stroke="#9c20b2" stroke-width="1.15" stroke-linejoin="round"/>
</g>
<g stroke="#555864" stroke-width="1" fill="none" shape-rendering="crispEdges"><path d="M6.5 19.5 H1553.5 V812.5 H6.5 Z"/><path d="M1493.5 19.5 V812.5"/><path d="M6.5 665.5 H1553.5"/><path d="M6.5 783.5 H1553.5"/><path d="M1494 26.5 h4"/><path d="M1494 87.5 h4"/><path d="M1494 148.5 h4"/><path d="M1494 209.5 h4"/><path d="M1494 269.5 h4"/><path d="M1494 330.5 h4"/><path d="M1494 391.5 h4"/><path d="M1494 451.5 h4"/><path d="M1494 512.5 h4"/><path d="M1494 573.5 h4"/><path d="M1494 634.5 h4"/><path d="M1494 674.5 h4"/><path d="M1494 712.5 h4"/><path d="M1494 750.5 h4"/><path d="M68.5 784 v4"/><path d="M221.5 784 v4"/><path d="M326.5 784 v4"/><path d="M414.5 784 v4"/><path d="M518.5 784 v4"/><path d="M649.5 784 v4"/><path d="M789.5 784 v4"/><path d="M908.5 784 v4"/><path d="M990.5 784 v4"/><path d="M1074.5 784 v4"/><path d="M1166.5 784 v4"/><path d="M1255.5 784 v4"/><path d="M1360.5 784 v4"/><path d="M1490.5 784 v4"/></g>
<g font-family="Liberation Sans, sans-serif" font-size="12" fill="#b0b3bc" stroke="#b0b3bc" stroke-width="0.25" clip-path="url(#ca)"><text x="1502.4" y="30.8" textLength="41.8" lengthAdjust="spacingAndGlyphs">1.20500</text><text x="1502.4" y="91.8" textLength="41.8" lengthAdjust="spacingAndGlyphs">1.20000</text><text x="1502.4" y="152.8" textLength="41.8" lengthAdjust="spacingAndGlyphs">1.19500</text><text x="1502.4" y="213.8" textLength="41.8" lengthAdjust="spacingAndGlyphs">1.19000</text><text x="1502.4" y="273.8" textLength="41.8" lengthAdjust="spacingAndGlyphs">1.18500</text><text x="1502.4" y="334.8" textLength="41.8" lengthAdjust="spacingAndGlyphs">1.18000</text><text x="1502.4" y="395.8" textLength="41.8" lengthAdjust="spacingAndGlyphs">1.17500</text><text x="1502.4" y="455.8" textLength="41.8" lengthAdjust="spacingAndGlyphs">1.17000</text><text x="1502.4" y="516.8" textLength="41.8" lengthAdjust="spacingAndGlyphs">1.16500</text><text x="1502.4" y="577.8" textLength="41.8" lengthAdjust="spacingAndGlyphs">1.16000</text><text x="1502.4" y="638.8" textLength="41.8" lengthAdjust="spacingAndGlyphs">1.15500</text></g>
<g font-family="Liberation Sans, sans-serif" font-size="12" fill="#b0b3bc" stroke="#b0b3bc" stroke-width="0.25"><text x="1501.9" y="678.8" textLength="30" lengthAdjust="spacingAndGlyphs">80.00</text><text x="1501.9" y="716.8" textLength="30" lengthAdjust="spacingAndGlyphs">60.00</text><text x="1501.9" y="754.8" textLength="30" lengthAdjust="spacingAndGlyphs">40.00</text></g>
<rect x="1507.5" y="26.5" width="31" height="19" rx="4" fill="#131722" stroke="#363a45"/>
<text x="1513" y="38.8" font-family="Liberation Sans, sans-serif" font-size="12" fill="#b0b3bc" textLength="20.5" lengthAdjust="spacingAndGlyphs">USD</text>
<rect x="1493" y="176" width="60" height="19" fill="#ffffff"/><path d="M1493 185.5h5" stroke="#131722"/><text x="1502.4" y="190" font-family="Liberation Sans, sans-serif" font-size="12" fill="#131722" textLength="41.8" lengthAdjust="spacingAndGlyphs">1.19197</text>
<rect x="1493" y="436" width="60" height="19" fill="#ffffff"/><path d="M1493 445.5h5" stroke="#131722"/><text x="1502.4" y="450" font-family="Liberation Sans, sans-serif" font-size="12" fill="#131722" textLength="41.8" lengthAdjust="spacingAndGlyphs">1.17053</text>
<rect x="1493" y="251" width="60" height="19" fill="#26a69a"/><path d="M1493 260.5h5" stroke="#ffffff"/><text x="1502.4" y="265" font-family="Liberation Sans, sans-serif" font-size="12" font-weight="bold" fill="#ffffff" textLength="41.8" lengthAdjust="spacingAndGlyphs">1.18573</text>
<rect x="1493" y="722" width="47" height="19" fill="#ff9800"/><path d="M1493 731.5h5" stroke="#131722"/><text x="1501.9" y="736.3" font-family="Liberation Sans, sans-serif" font-size="12" fill="#131722" textLength="30" lengthAdjust="spacingAndGlyphs">50.00</text>
<g font-family="Liberation Sans, sans-serif" font-size="12" fill="#b0b3bc" clip-path="url(#ct)"><text x="62.7" y="803.2" stroke="#b0b3bc" stroke-width="0.3" textLength="11.6" lengthAdjust="spacingAndGlyphs">15</text><text x="212" y="803.2" font-weight="bold" textLength="6.5" lengthAdjust="spacingAndGlyphs">7</text><text x="218.2" y="802.4" font-weight="bold" font-family="Liberation Sans, Noto Sans CJK JP, sans-serif">月</text><text x="320.8" y="803.2" stroke="#b0b3bc" stroke-width="0.3" textLength="11.4" lengthAdjust="spacingAndGlyphs">13</text><text x="408.6" y="803.2" stroke="#b0b3bc" stroke-width="0.3" textLength="11.8" lengthAdjust="spacingAndGlyphs">22</text><text x="509" y="803.2" font-weight="bold" textLength="6.5" lengthAdjust="spacingAndGlyphs">8</text><text x="515.2" y="802.4" font-weight="bold" font-family="Liberation Sans, Noto Sans CJK JP, sans-serif">月</text><text x="643.8" y="803.2" stroke="#b0b3bc" stroke-width="0.3" textLength="11.4" lengthAdjust="spacingAndGlyphs">17</text><text x="780" y="803.2" font-weight="bold" textLength="6.5" lengthAdjust="spacingAndGlyphs">9</text><text x="786.2" y="802.4" font-weight="bold" font-family="Liberation Sans, Noto Sans CJK JP, sans-serif">月</text><text x="902.6" y="803.2" stroke="#b0b3bc" stroke-width="0.3" textLength="11.8" lengthAdjust="spacingAndGlyphs">14</text><text x="976.25" y="803.2" stroke="#b0b3bc" stroke-width="0.3" textLength="28.5" lengthAdjust="spacingAndGlyphs">14:00</text><text x="1061.75" y="803.2" font-weight="bold" textLength="13" lengthAdjust="spacingAndGlyphs">10</text><text x="1074.45" y="802.4" font-weight="bold" font-family="Liberation Sans, Noto Sans CJK JP, sans-serif">月</text><text x="1160.7" y="803.2" stroke="#b0b3bc" stroke-width="0.3" textLength="11.6" lengthAdjust="spacingAndGlyphs">12</text><text x="1249.8" y="803.2" stroke="#b0b3bc" stroke-width="0.3" textLength="11.4" lengthAdjust="spacingAndGlyphs">21</text><text x="1347.75" y="803.2" font-weight="bold" textLength="13" lengthAdjust="spacingAndGlyphs">11</text><text x="1360.45" y="802.4" font-weight="bold" font-family="Liberation Sans, Noto Sans CJK JP, sans-serif">月</text><text x="1484.7" y="803.2" stroke="#b0b3bc" stroke-width="0.3" textLength="11.6" lengthAdjust="spacingAndGlyphs">16</text></g>
<g font-family="Liberation Sans, sans-serif" font-size="16" stroke-width="0.3"><text x="6.1" y="13.8" fill="#ffffff" stroke="#ffffff" stroke-width="0.25" textLength="93.49" lengthAdjust="spacingAndGlyphs">FX:EURUSD,</text><text x="104.61" y="13.8" fill="#ffffff" stroke="#ffffff" stroke-width="0.25" textLength="28.58" lengthAdjust="spacingAndGlyphs">240</text><text x="140.49" y="13.8" fill="#ffffff" stroke="#ffffff" stroke-width="0.25" textLength="61.81" lengthAdjust="spacingAndGlyphs">1.18573</text><text x="220.8" y="13.8" fill="#ffffff" stroke="#ffffff" stroke-width="0.25" textLength="73.59" lengthAdjust="spacingAndGlyphs">+0.00396</text><text x="300" y="13.8" fill="#ffffff" stroke="#ffffff" stroke-width="0.25" textLength="67.79" lengthAdjust="spacingAndGlyphs">(+0.34%)</text><text x="371.86" y="13.8" fill="#ffffff" stroke="#ffffff" stroke-width="0.25" textLength="18.67" lengthAdjust="spacingAndGlyphs">O:</text><text x="393.41" y="13.8" fill="#26a69a" stroke="#26a69a" stroke-width="0.1" textLength="60.98" lengthAdjust="spacingAndGlyphs">1.18432</text><text x="458.84" y="13.8" fill="#ffffff" stroke="#ffffff" stroke-width="0.25" textLength="17.54" lengthAdjust="spacingAndGlyphs">H:</text><text x="479.02" y="13.8" fill="#26a69a" stroke="#26a69a" stroke-width="0.1" textLength="61.49" lengthAdjust="spacingAndGlyphs">1.18648</text><text x="545.56" y="13.8" fill="#ffffff" stroke="#ffffff" stroke-width="0.25" textLength="11.66" lengthAdjust="spacingAndGlyphs">L:</text><text x="561.02" y="13.8" fill="#26a69a" stroke="#26a69a" stroke-width="0.1" textLength="60.98" lengthAdjust="spacingAndGlyphs">1.18422</text><text x="627.42" y="13.8" fill="#ffffff" stroke="#ffffff" stroke-width="0.25" textLength="15.94" lengthAdjust="spacingAndGlyphs">C:</text><text x="647.02" y="13.8" fill="#26a69a" stroke="#26a69a" stroke-width="0.1" textLength="60.98" lengthAdjust="spacingAndGlyphs">1.18573</text></g>
<path d="M206 9.9 L216 9.9 L211 0.6 Z" fill="#26a69a"/>
<text x="14.7" y="43.5" font-size="16" fill="#8a8d97" font-family="Liberation Sans, Noto Sans CJK JP, sans-serif" textLength="112" lengthAdjust="spacingAndGlyphs">ユーロ／米ドル</text>
<g font-family="Liberation Sans, sans-serif" font-size="16" fill="#8a8d97">
<text x="127" y="43.7">,</text><text x="135.6" y="43.7">4</text>
</g>
<text x="145" y="43.5" font-size="16" fill="#8a8d97" font-family="Liberation Sans, Noto Sans CJK JP, sans-serif" textLength="32" lengthAdjust="spacingAndGlyphs">時間</text>
<g font-family="Liberation Sans, sans-serif" font-size="16" fill="#8a8d97">
<text x="177" y="43.7">,</text><text x="185.6" y="43.7" textLength="45.2" lengthAdjust="spacingAndGlyphs">FXCM</text>
<text x="15.6" y="61.7" textLength="122" lengthAdjust="spacingAndGlyphs">MA (75, close, 0)</text>
<text x="15.6" y="78.7" textLength="132" lengthAdjust="spacingAndGlyphs">MA (200, close, 0)</text>
<text x="15.6" y="691" textLength="103.8" lengthAdjust="spacingAndGlyphs">RSI (14, close)</text>
</g>
<g fill="#2196f3"><circle cx="10.6" cy="833.5" r="4.6"/><circle cx="16.5" cy="828.4" r="5.6"/><circle cx="23.2" cy="829.6" r="4"/><circle cx="27.6" cy="833.5" r="4.6"/><rect x="10.6" y="829" width="17" height="9.1"/></g><g fill="#131722" stroke="none"><path d="M6.2 836.9 L15.8 828.5 L21.9 834.2 L28.6 827.9" fill="none" stroke="#131722" stroke-width="1.2"/><circle cx="15.8" cy="828.5" r="1.5"/><circle cx="21.9" cy="834.2" r="1.5"/></g>
<text x="33.6" y="835.2" font-family="Liberation Sans, sans-serif" font-size="13" fill="#ffffff" textLength="71.4" lengthAdjust="spacingAndGlyphs">TradingView</text>
</svg>
</body></html>
